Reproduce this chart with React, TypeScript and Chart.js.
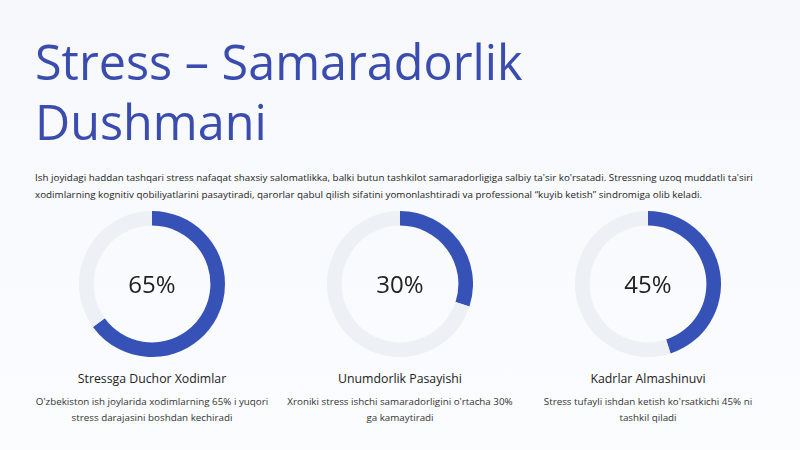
import React, { useEffect, useRef } from "react";
import { Chart, registerables } from "chart.js";

Chart.register(...registerables);

const titleText = "Stress – Samaradorlik Dushmani";
const introText =
  "Ish joyidagi haddan tashqari stress nafaqat shaxsiy salomatlikka, balki butun tashkilot samaradorligiga salbiy ta'sir ko'rsatadi. Stressning uzoq muddatli ta'siri xodimlarning kognitiv qobiliyatlarini pasaytiradi, qarorlar qabul qilish sifatini yomonlashtiradi va professional “kuyib ketish” sindromiga olib keladi.";

const categories = ["Stressga Duchor Xodimlar", "Unumdorlik Pasayishi", "Kadrlar Almashinuvi"];
const values = [65, 30, 45];
const descriptions = [
  "O'zbekiston ish joylarida xodimlarning 65% i yuqori stress darajasini boshdan kechiradi",
  "Xroniki stress ishchi samaradorligini o'rtacha 30% ga kamaytiradi",
  "Stress tufayli ishdan ketish ko'rsatkichi 45% ni tashkil qiladi",
];

const BLUE = "#3752b6";
const TRACK = "#edf0f4";

function Donut({ value }: { value: number }) {
  const ref = useRef<HTMLCanvasElement | null>(null);
  useEffect(() => {
    if (!ref.current) return;
    const chart = new Chart(ref.current, {
      type: "doughnut",
      data: {
        labels: ["value", "rest"],
        datasets: [
          {
            data: [value, 100 - value],
            backgroundColor: [BLUE, TRACK],
            borderWidth: 0,
          },
        ],
      },
      options: {
        responsive: false,
        animation: false,
        cutout: "80%",
        plugins: { legend: { display: false }, tooltip: { enabled: false } },
        layout: { padding: 0 },
      },
    });
    return () => chart.destroy();
  }, [value]);
  return <canvas ref={ref} width={146} height={146} style={{ width: 146, height: 146 }} />;
}

export default function App() {
  const colW = 234;
  const gap = 14;
  const left0 = 35;
  return (
    <div
      style={{
        position: "fixed",
        left: 0,
        top: 0,
        width: 800,
        height: 450,
        background: "linear-gradient(180deg, #f6f8fb 0%, #fbfcfe 100%)",
        fontFamily: "'Open Sans', 'Noto Sans', sans-serif",
        overflow: "hidden",
      }}
    >
      <div
        style={{
          position: "absolute",
          left: 35,
          top: 31,
          width: 560,
          fontSize: 48.5,
          lineHeight: "60px",
          color: "#3a4cae",
          fontWeight: 400,
        }}
      >
        {titleText}
      </div>
      <div
        style={{
          position: "absolute",
          left: 35,
          top: 169,
          width: 734,
          fontSize: 9.8,
          letterSpacing: "0.02px",
          lineHeight: "17px",
          color: "#222",
        }}
      >
        {introText}
      </div>
      {categories.map((cat, i) => {
        const left = left0 + i * (colW + gap);
        return (
          <div key={cat} style={{ position: "absolute", left, top: 0, width: colW }}>
            <div style={{ position: "absolute", left: (colW - 146) / 2, top: 211 }}>
              <Donut value={values[i]} />
              <div
                style={{
                  position: "absolute",
                  left: 0,
                  top: 0,
                  width: 146,
                  height: 146,
                  display: "flex",
                  alignItems: "center",
                  justifyContent: "center",
                  fontSize: 24,
                  color: "#222",
                  paddingBottom: 2,
                  boxSizing: "border-box",
                }}
              >
                {values[i]}%
              </div>
            </div>
            <div
              style={{
                position: "absolute",
                left: 0,
                top: 369,
                width: colW,
                textAlign: "center",
                fontSize: 12.3,
                lineHeight: "20px",
                color: "#222",
              }}
            >
              {cat}
            </div>
            <div
              style={{
                position: "absolute",
                left: 0,
                top: 394,
                width: colW,
                textAlign: "center",
                fontSize: 9.8,
                lineHeight: "16px",
                color: "#333",
              }}
            >
              {descriptions[i]}
            </div>
          </div>
        );
      })}
    </div>
  );
}
